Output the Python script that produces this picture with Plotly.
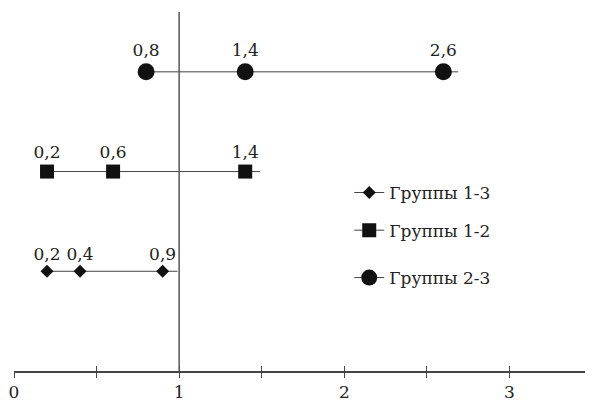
import plotly.graph_objects as go

series_names = ["Группы 1-3", "Группы 1-2", "Группы 2-3"]
series_values = [[0.2, 0.4, 0.9], [0.2, 0.6, 1.4], [0.8, 1.4, 2.6]]
series_levels = [1, 2, 3]
symbols = ["diamond", "square", "circle"]
sizes = [10, 14, 17]
x_ticks = [0, 0.5, 1, 1.5, 2, 2.5, 3, 3.5]
x_tick_labels = ["0", "", "1", "", "2", "", "3", ""]
ref_line_x = 1

FONT = "DejaVu Serif"
LINE_C = "#444444"
tail = 0.09
legend_keys = ["legend", "legend2", "legend3"]
legend_y = [0.496, 0.391, 0.259]

fig = go.Figure()
for name, vals, lvl, sym, sz, lk in zip(series_names, series_values, series_levels, symbols, sizes, legend_keys):
    fig.add_trace(go.Scatter(
        x=[vals[-1], vals[-1] + tail], y=[lvl, lvl], mode="lines",
        line=dict(color=LINE_C, width=1), showlegend=False, hoverinfo="skip"))
    fig.add_trace(go.Scatter(
        x=vals, y=[lvl] * len(vals), mode="lines+markers+text", name=name,
        text=[str(v).replace(".", ",") for v in vals], textposition="top center",
        textfont=dict(family=FONT, size=17, color="#222"),
        line=dict(color=LINE_C, width=1),
        marker=dict(symbol=sym, size=sz, color="#111"),
        legend=lk))

fig.add_shape(type="line", x0=ref_line_x, x1=ref_line_x, y0=0, y1=1, xref="x", yref="paper",
              line=dict(color="#555", width=1.5))

legend_common = dict(x=0.58, xanchor="left", yanchor="middle",
                     font=dict(family=FONT, size=17, color="#222"),
                     bgcolor="rgba(0,0,0,0)")
layout_legends = {lk: dict(legend_common, y=ly) for lk, ly in zip(legend_keys, legend_y)}

fig.update_layout(
    width=585, height=395,
    margin=dict(l=3, r=1, t=4, b=28),
    paper_bgcolor="white", plot_bgcolor="white",
    font=dict(family=FONT),
    showlegend=True,
    xaxis=dict(range=[0, 3.5], tickvals=x_ticks, ticktext=x_tick_labels,
               ticks="outside", ticklen=5, tickcolor="#444", tickwidth=1.2,
               ticklabeloverflow="allow",
               showline=True, linecolor="#444", linewidth=1.5, showgrid=False, zeroline=False,
               tickfont=dict(family=FONT, size=17, color="#222")),
    xaxis2=dict(range=[0, 3.5], tickvals=x_ticks, ticks="inside", ticklen=5,
                tickcolor="#444", tickwidth=1.2, showticklabels=False, showgrid=False,
                zeroline=False, overlaying="x", anchor="y", side="bottom", showline=False),
    yaxis=dict(range=[0, 3.6], visible=False, showgrid=False, zeroline=False),
    **layout_legends,
)
fig.add_trace(go.Scatter(x=[0], y=[0], xaxis="x2", mode="markers", marker=dict(opacity=0),
                         showlegend=False, hoverinfo="skip"))

fig.write_html("out.html")
